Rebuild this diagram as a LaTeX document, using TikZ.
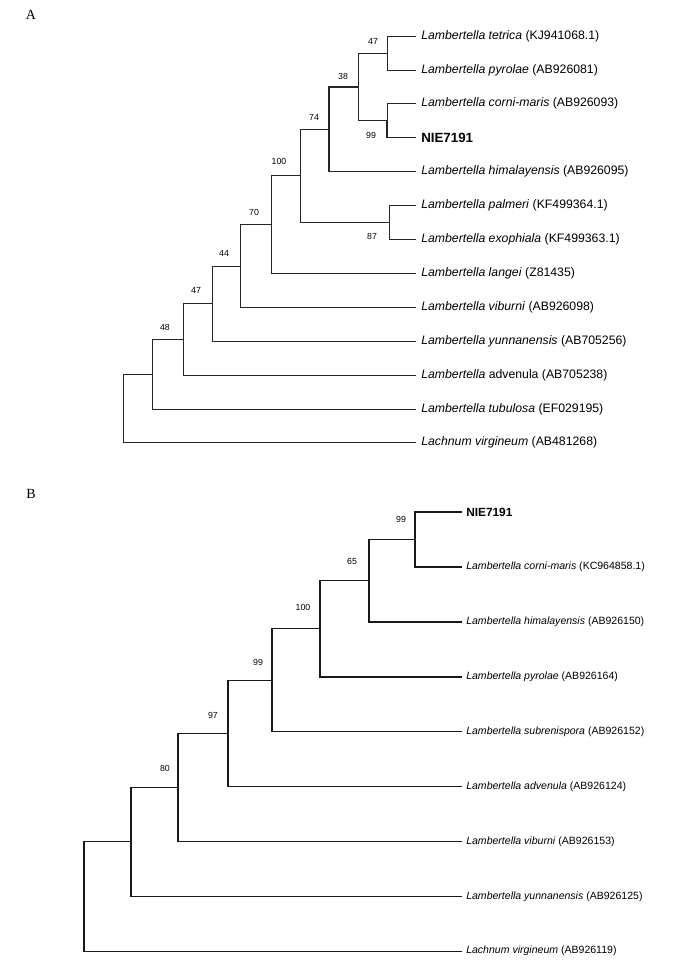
\documentclass[tikz,border=0pt]{standalone}
\usepackage{fontspec}
\setmainfont{Liberation Sans}
\newfontfamily\panelfont{Liberation Serif}
\begin{document}
\begin{tikzpicture}[x=0.75pt,y=-0.75pt,
  br/.style={line width=0.6pt, draw=black!85},
  brk/.style={line width=1.1pt, draw=black!85},
  brb/.style={line width=0.8pt, draw=black!90},
  brbk/.style={line width=1.2pt, draw=black!90},
  leafA/.style={anchor=west, inner xsep=3.75pt, inner ysep=0pt, font=\fontsize{9.2}{11}\selectfont},
  leafB/.style={anchor=west, inner xsep=3pt, inner ysep=0pt, font=\fontsize{7.9}{9.5}\selectfont},
  nieA/.style={leafA, font=\fontsize{10}{12}\bfseries},
  nieB/.style={leafB, font=\fontsize{8.9}{11}\bfseries},
  boot/.style={inner sep=0pt, font=\fontsize{6.6}{8}\selectfont},
  panel/.style={inner sep=0pt, font=\panelfont\fontsize{10.5}{12}\selectfont}]
\useasboundingbox (0,0) rectangle (688,976);

% ---------------- Panel A ----------------
\node[panel] (pA) at (31,15) {A};

\node[leafA] (a1) at (416,36) {\textit{Lambertella tetrica} (KJ941068.1)};
\node[leafA] (a2) at (416,69.9) {\textit{Lambertella pyrolae} (AB926081)};
\node[leafA] (a3) at (416,103.8) {\textit{Lambertella corni-maris} (AB926093)};
\node[nieA] (a4) at (416,137.7) {NIE7191};
\node[leafA] (a5) at (416,171.6) {\textit{Lambertella himalayensis} (AB926095)};
\node[leafA] (a6) at (416,205.5) {\textit{Lambertella palmeri} (KF499364.1)};
\node[leafA] (a7) at (416,239.4) {\textit{Lambertella exophiala} (KF499363.1)};
\node[leafA] (a8) at (416,273.3) {\textit{Lambertella langei} (Z81435)};
\node[leafA] (a9) at (416,307.2) {\textit{Lambertella viburni} (AB926098)};
\node[leafA] (a10) at (416,341.1) {\textit{Lambertella yunnanensis} (AB705256)};
\node[leafA] (a11) at (416,375) {\textit{Lambertella} advenula (AB705238)};
\node[leafA] (a12) at (416,408.9) {\textit{Lambertella tubulosa} (EF029195)};
\node[leafA] (a13) at (416,442.8) {\textit{Lachnum virgineum} (AB481268)};

\coordinate (nA47) at (387,52.95);
\coordinate (nA99) at (387,120.75);
\coordinate (nA38) at (358,86.85);
\coordinate (nA74) at (329,129.2);
\coordinate (nA87) at (389,222.45);
\coordinate (nA100) at (300,175.8);
\coordinate (nA70) at (271,224.6);
\coordinate (nA44) at (240,265.9);
\coordinate (nA47b) at (212,303.5);
\coordinate (nA48) at (183,339.25);
\coordinate (nAu) at (152,374.1);
\coordinate (nAr) at (123,408.4);

\draw[br] (nA47) |- (a1.west);
\draw[br] (nA47) |- (a2.west);
\draw[br] (nA99) |- (a3.west);
\draw[brk] (nA99) |- (a4.west);
\draw[br] (nA38) |- (nA47);
\draw[br] (nA38) |- (nA99);
\draw[brk] (nA74) |- (nA38);
\draw[brk] (nA74) |- (a5.west);
\draw[br] (nA87) |- (a6.west);
\draw[br] (nA87) |- (a7.west);
\draw[br] (nA100) |- (nA74);
\draw[br] (nA100) |- (nA87);
\draw[br] (nA70) |- (nA100);
\draw[br] (nA70) |- (a8.west);
\draw[br] (nA44) |- (nA70);
\draw[br] (nA44) |- (a9.west);
\draw[br] (nA47b) |- (nA44);
\draw[br] (nA47b) |- (a10.west);
\draw[br] (nA48) |- (nA47b);
\draw[br] (nA48) |- (a11.west);
\draw[br] (nAu) |- (nA48);
\draw[br] (nAu) |- (a12.west);
\draw[br] (nAr) |- (nAu);
\draw[br] (nAr) |- (a13.west);

\node[boot] (bA47) at (373,41) {47};
\node[boot] (bA38) at (343,76) {38};
\node[boot] (bA74) at (314,117) {74};
\node[boot] (bA99) at (371,135) {99};
\node[boot] (bA100) at (279,161) {100};
\node[boot] (bA87) at (372,236) {87};
\node[boot] (bA70) at (254,212) {70};
\node[boot] (bA44) at (224,253) {44};
\node[boot] (bA47b) at (196,290) {47};
\node[boot] (bA48) at (165,327) {48};

% ---------------- Panel B ----------------
\node[panel] (pB) at (31,494) {B};

\node[nieB] (b1) at (462,512) {NIE7191};
\node[leafB] (b2) at (462,566.9) {\textit{Lambertella corni-maris} (KC964858.1)};
\node[leafB] (b3) at (462,621.8) {\textit{Lambertella himalayensis} (AB926150)};
\node[leafB] (b4) at (462,676.7) {\textit{Lambertella pyrolae} (AB926164)};
\node[leafB] (b5) at (462,731.6) {\textit{Lambertella subrenispora} (AB926152)};
\node[leafB] (b6) at (462,786.5) {\textit{Lambertella advenula} (AB926124)};
\node[leafB] (b7) at (462,841.4) {\textit{Lambertella viburni} (AB926153)};
\node[leafB] (b8) at (462,896.3) {\textit{Lambertella yunnanensis} (AB926125)};
\node[leafB] (b9) at (462,951.2) {\textit{Lachnum virgineum} (AB926119)};

\coordinate (nB99) at (415,539.45);
\coordinate (nB65) at (369,580.6);
\coordinate (nB100) at (320,628.65);
\coordinate (nB99b) at (272,680.1);
\coordinate (nB97) at (228,733.3);
\coordinate (nB80) at (178,787.35);
\coordinate (nBu) at (131,841.8);
\coordinate (nBr) at (84,896.5);

\draw[brb] (nB99) |- (b1.west);
\draw[brbk] (nB99) |- (b2.west);
\draw[brbk] (nB65) |- (nB99);
\draw[brbk] (nB65) |- (b3.west);
\draw[brbk] (nB100) |- (nB65);
\draw[brbk] (nB100) |- (b4.west);
\draw[brbk] (nB99b) |- (nB100);
\draw[brb] (nB99b) |- (b5.west);
\draw[brb] (nB97) |- (nB99b);
\draw[brb] (nB97) |- (b6.west);
\draw[brb] (nB80) |- (nB97);
\draw[brb] (nB80) |- (b7.west);
\draw[brb] (nBu) |- (nB80);
\draw[brb] (nBu) |- (b8.west);
\draw[brb] (nBr) |- (nBu);
\draw[brb] (nBr) |- (b9.west);

\node[boot] (bB99) at (401,519) {99};
\node[boot] (bB65) at (352,561) {65};
\node[boot] (bB100) at (303,607) {100};
\node[boot] (bB99b) at (258,662) {99};
\node[boot] (bB97) at (213,715) {97};
\node[boot] (bB80) at (165,768) {80};
\end{tikzpicture}
\end{document}
